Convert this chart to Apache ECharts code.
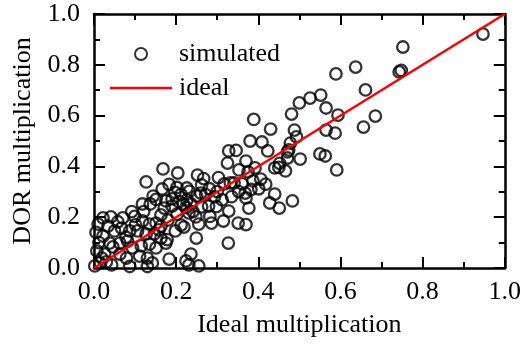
<!DOCTYPE html>
<html>
<head>
<meta charset="utf-8">
<script src="https://cdn.jsdelivr.net/npm/echarts@6/dist/echarts.min.js"></script>
<style>
  html, body { margin: 0; padding: 0; background: #fff; }
  #chart { width: 524px; height: 344px; }
</style>
</head>
<body>
<div id="chart"></div>
<script>
// simulated points, [ideal, DOR] pairs
const simulated = [
  [0.947, 0.921], [0.752, 0.870], [0.743, 0.772], [0.748, 0.778], [0.637, 0.791],
  [0.589, 0.764], [0.661, 0.701], [0.685, 0.598], [0.656, 0.555], [0.594, 0.602],
  [0.587, 0.531], [0.591, 0.386], [0.552, 0.681], [0.526, 0.669], [0.500, 0.650],
  [0.565, 0.630], [0.565, 0.543], [0.550, 0.449], [0.563, 0.441], [0.502, 0.429],
  [0.481, 0.606], [0.488, 0.543], [0.493, 0.516], [0.471, 0.457], [0.483, 0.264],
  [0.389, 0.585], [0.430, 0.547], [0.380, 0.500], [0.409, 0.496], [0.423, 0.461],
  [0.328, 0.461], [0.346, 0.463], [0.325, 0.413], [0.370, 0.421], [0.353, 0.386],
  [0.375, 0.378], [0.392, 0.394], [0.406, 0.350], [0.440, 0.394], [0.450, 0.396],
  [0.474, 0.465], [0.478, 0.492], [0.471, 0.433], [0.252, 0.366], [0.267, 0.352],
  [0.303, 0.356], [0.317, 0.331], [0.332, 0.335], [0.341, 0.335], [0.168, 0.390],
  [0.204, 0.374], [0.127, 0.339], [0.387, 0.343],
  [0.368, 0.295], [0.382, 0.309], [0.370, 0.276], [0.377, 0.236], [0.440, 0.291],
  [0.428, 0.256], [0.451, 0.236], [0.166, 0.311], [0.144, 0.283], [0.137, 0.252],
  [0.183, 0.329], [0.202, 0.317], [0.226, 0.315], [0.250, 0.283], [0.272, 0.289],
  [0.293, 0.280], [0.279, 0.244], [0.298, 0.242], [0.328, 0.224], [0.315, 0.185],
  [0.351, 0.177], [0.370, 0.171], [0.255, 0.173], [0.286, 0.177], [0.249, 0.118],
  [0.327, 0.098], [0.236, 0.055], [0.255, 0.008], [0.231, 0.012],
  [0.151, 0.270], [0.175, 0.264], [0.190, 0.244], [0.207, 0.260], [0.224, 0.238],
  [0.236, 0.252], [0.231, 0.217], [0.248, 0.201],
  [0.022, 0.197], [0.070, 0.197], [0.099, 0.203], [0.118, 0.185], [0.135, 0.173],
  [0.151, 0.177], [0.163, 0.165], [0.180, 0.189], [0.212, 0.169], [0.219, 0.161],
  [0.010, 0.173], [0.034, 0.165], [0.050, 0.146], [0.067, 0.157], [0.087, 0.146],
  [0.106, 0.146], [0.127, 0.134], [0.147, 0.134], [0.163, 0.118], [0.178, 0.112],
  [0.022, 0.126], [0.038, 0.098], [0.063, 0.098], [0.082, 0.106], [0.094, 0.079],
  [0.115, 0.087], [0.135, 0.094], [0.151, 0.079], [0.175, 0.098],
  [0.007, 0.067], [0.026, 0.055], [0.014, 0.020], [0.063, 0.055], [0.079, 0.039],
  [0.111, 0.047], [0.130, 0.039], [0.142, 0.020], [0.183, 0.035], [0.224, 0.028],
  [0.087, 0.006], [0.130, 0.006], [0.043, 0.012],
  [0.163, 0.209], [0.171, 0.236], [0.226, 0.268], [0.260, 0.295], [0.002, 0.008],
  [0.019, 0.039], [0.005, 0.140], [0.012, 0.100], [0.030, 0.024],
  [0.190, 0.272], [0.212, 0.290], [0.232, 0.302], [0.241, 0.222], [0.262, 0.241],
  [0.281, 0.312], [0.300, 0.301], [0.312, 0.268], [0.202, 0.212], [0.121, 0.222],
  [0.101, 0.170], [0.058, 0.182], [0.041, 0.201], [0.078, 0.121], [0.158, 0.150],
  [0.282, 0.203], [0.335, 0.281], [0.352, 0.301], [0.361, 0.331], [0.401, 0.312],
  [0.418, 0.330], [0.452, 0.412], [0.466, 0.382], [0.197, 0.298], [0.218, 0.252],
  [0.118, 0.252], [0.092, 0.222], [0.046, 0.083], [0.198, 0.146], [0.262, 0.327]
];
const idealX = [0, 1];
const idealY = [0, 1];
const seriesNames = ['simulated', 'ideal'];

const FONT = "'Liberation Serif', 'Times New Roman', serif";
const frame = { show: true, onZero: false, lineStyle: { color: '#000', width: 2.5 } };

function axis(pos, name, showLabel) {
  const horiz = pos === 'bottom' || pos === 'top';
  return {
    type: 'value', position: pos, min: 0, max: 1, interval: 0.2,
    name: name, nameLocation: 'middle',
    nameGap: horiz ? 44 : 57,
    nameTextStyle: { fontFamily: FONT, fontSize: 26, color: '#000' },
    axisLine: frame,
    axisTick: { show: true, inside: true, length: 11, lineStyle: { color: '#000', width: 2 } },
    minorTick: { show: true, splitNumber: 2, length: 6, lineStyle: { color: '#000', width: 2 } },
    splitLine: { show: false },
    axisLabel: {
      show: showLabel, margin: horiz ? 11 : 14,
      fontFamily: FONT, fontSize: 26, color: '#000',
      formatter: v => v.toFixed(1)
    }
  };
}

const chart = echarts.init(document.getElementById('chart'), null, { renderer: 'canvas' });
chart.setOption({
  animation: false,
  grid: { left: 94, right: 14, top: 14, bottom: 76 },
  xAxis: [axis('bottom', 'Ideal multiplication', true), axis('top', '', false)],
  yAxis: [axis('left', 'DOR multiplication', true), axis('right', '', false)],
  legend: {
    orient: 'vertical', left: 105, top: 36, itemGap: 8,
    itemWidth: 62, itemHeight: 12,
    textStyle: { fontFamily: FONT, fontSize: 26, color: '#000', padding: [0, 0, 0, 2] },
    data: [
      { name: seriesNames[0] },
      { name: seriesNames[1], icon: 'path://M0,0H62V2.5H0Z', symbolKeepAspect: true }
    ]
  },
  series: [
    {
      name: seriesNames[0], type: 'scatter', symbol: 'circle', symbolSize: 11.5,
      itemStyle: { color: 'rgba(0,0,0,0)', borderColor: '#000', borderWidth: 2.3 },
      data: simulated, z: 2
    },
    {
      name: seriesNames[1], type: 'line', symbol: 'none',
      lineStyle: { color: '#f00', width: 2.5 },
      itemStyle: { color: '#f00' },
      data: idealX.map((x, i) => [x, idealY[i]]), z: 3
    }
  ]
});
</script>
</body>
</html>
